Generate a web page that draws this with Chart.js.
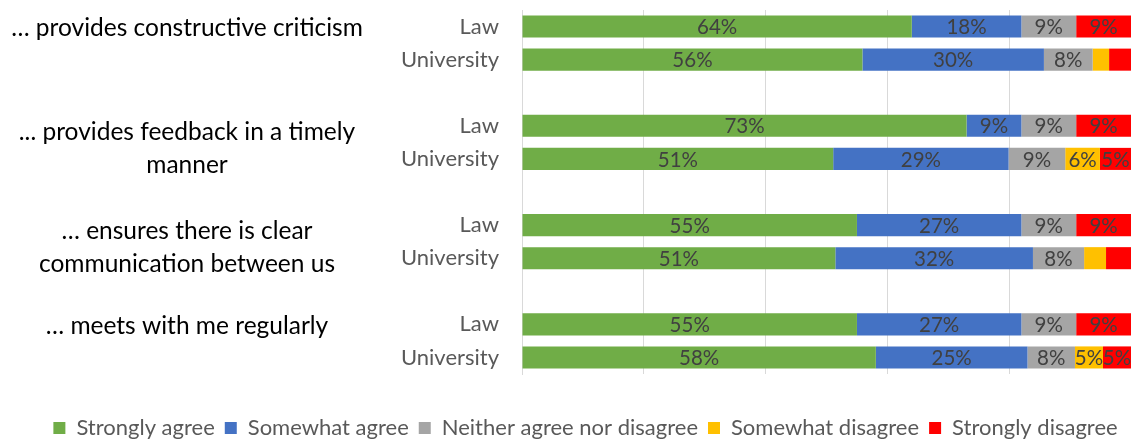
<!DOCTYPE html>
<html><head><meta charset="utf-8">
<script src="https://cdn.jsdelivr.net/npm/chart.js@4.4.1/dist/chart.umd.min.js"></script>
<style>html,body{margin:0;padding:0;background:#fff}#wrap{width:1131px;height:440px;position:relative}</style>
</head><body><div id="wrap"><canvas id="c"></canvas></div>
<script>
// Row labels (blank slots separate the question groups)
const rowLabels = ['Law','University','','Law','University','','Law','University','','Law','University'];
const groupLabels = [
  ['… provides constructive criticism'],
  ['... provides feedback in a timely','manner'],
  ['… ensures there is clear','communication between us'],
  ['… meets with me regularly']
];
const seriesNames = ['Strongly agree','Somewhat agree','Neither agree nor disagree','Somewhat disagree','Strongly disagree'];
const stronglyAgree    = [64, 55.9, null, 73, 51.1, null, 55, 51.45, null, 55, 58.1];
const somewhatAgree    = [18, 29.8, null,  9, 28.8, null, 27, 32.45, null, 27, 24.9];
const neither          = [ 9,  8.0, null,  9,  9.3, null,  9,  8.4,  null,  9,  7.8];
const somewhatDisagree = [ 0,  2.7, null,  0,  5.7, null,  0,  3.6,  null,  0,  4.6];
const stronglyDisagree = [ 9,  3.6, null,  9,  5.1, null,  9,  4.1,  null,  9,  4.6];
const colors = ['#70AD47','#4472C4','#A5A5A5','#FFC000','#FF0000'];
const xTicks = [0,20,40,60,80,100];

const FONT = 'Lato';

const valueLabels = {
  id: 'valueLabels',
  afterDatasetsDraw(chart) {
    const ctx = chart.ctx;
    ctx.save();
    ctx.font = '20.5px ' + FONT;
    ctx.fillStyle = '#404040';
    ctx.textAlign = 'center';
    ctx.textBaseline = 'middle';
    chart.data.datasets.forEach((ds, di) => {
      const meta = chart.getDatasetMeta(di);
      meta.data.forEach((el, i) => {
        const v = ds.data[i];
        if (v == null || Math.round(v) < 5) return;
        const p = el.getProps(['x','y','base'], true);
        ctx.fillText(Math.round(v) + '%', (p.x + p.base) / 2, p.y + 1);
      });
    });
    ctx.restore();
  }
};

const groupText = {
  id: 'groupText',
  afterDraw(chart) {
    const ctx = chart.ctx;
    const y = chart.scales.y;
    ctx.save();
    ctx.font = '24.5px ' + FONT;
    ctx.fillStyle = '#000000';
    ctx.textAlign = 'center';
    ctx.textBaseline = 'middle';
    groupLabels.forEach((lines, g) => {
      const first = y.getPixelForValue(g * 3);
      const step = y.getPixelForValue(g * 3 + 1) - first;
      const off = lines.length === 1 ? 1.5 : 6;
      lines.forEach((t, k) => {
        ctx.fillText(t, 187, first + off + k * step);
      });
    });
    ctx.restore();
  }
};

const mk = (i, data) => ({
  label: seriesNames[i], data, backgroundColor: colors[i], borderWidth: 0,
  barPercentage: 0.667, categoryPercentage: 1
});

new Chart(document.getElementById('c'), {
  type: 'bar',
  data: {
    labels: rowLabels,
    datasets: [mk(0, stronglyAgree), mk(1, somewhatAgree), mk(2, neither), mk(3, somewhatDisagree), mk(4, stronglyDisagree)]
  },
  plugins: [valueLabels, groupText],
  options: {
    indexAxis: 'y',
    responsive: true,
    maintainAspectRatio: false,
    animation: false,
    layout: { padding: { top: 10, left: 40, right: 0, bottom: -9 } },
    scales: {
      x: {
        stacked: true, min: 0, max: 100,
        afterBuildTicks: s => { s.ticks = xTicks.map(v => ({ value: v })); },
        ticks: { display: false },
        grid: { color: '#D9D9D9', lineWidth: 1, drawTicks: false },
        border: { display: false },
        afterFit: s => { s.height = 33; s.paddingLeft = 0; s.paddingRight = 0; }
      },
      y: {
        stacked: true,
        ticks: { color: '#595959', font: { family: FONT, size: 22 }, padding: 23, autoSkip: false },
        grid: { display: false, drawTicks: false },
        border: { display: true, color: '#D9D9D9' },
        afterFit: s => { s.width = 482; s.paddingTop = 0; s.paddingBottom = 0; }
      }
    },
    plugins: {
      tooltip: { enabled: false },
      legend: {
        position: 'bottom',
        labels: {
          color: '#595959', font: { family: FONT, size: 22 },
          boxWidth: 12, boxHeight: 12, padding: 10
        }
      }
    }
  }
});
</script>
</body></html>
